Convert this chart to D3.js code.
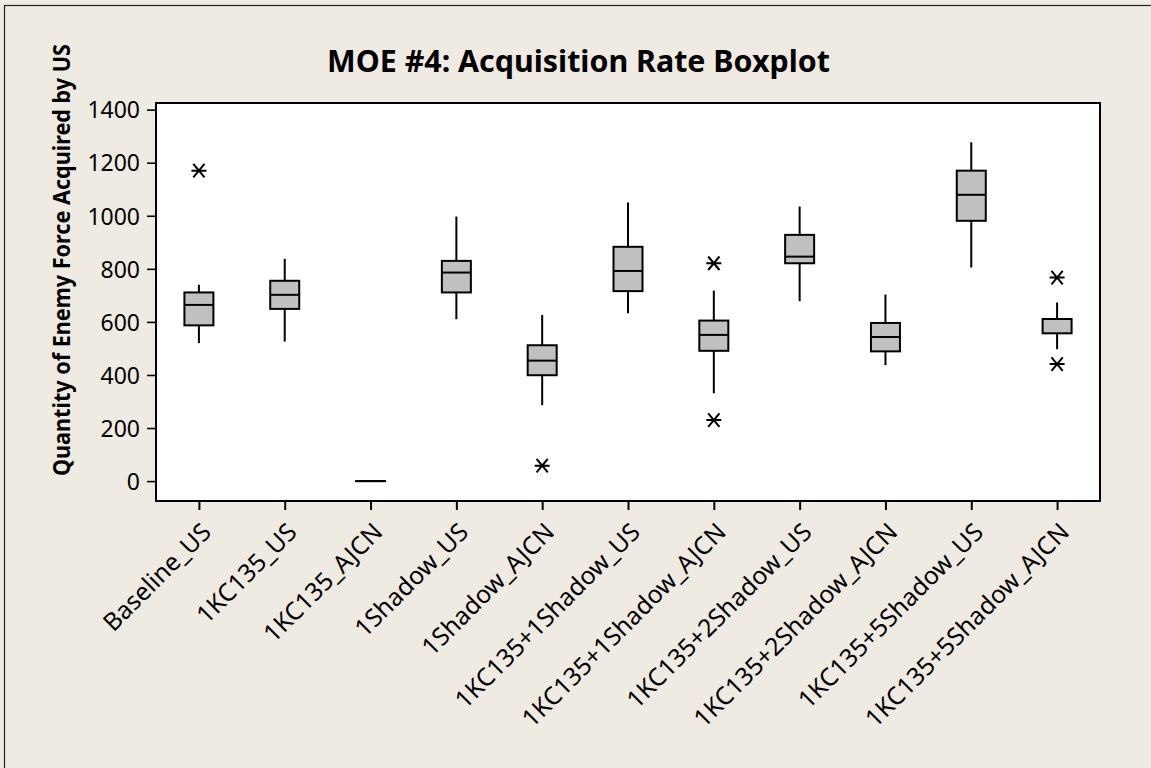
<!DOCTYPE html>
<html>
<head>
<meta charset="utf-8">
<script src="https://cdn.jsdelivr.net/npm/d3@7"></script>
<style>
  html, body { margin: 0; padding: 0; background: #efebe2; }
  svg { display: block; }
  .lbl { font-family: 'Noto Sans', 'DejaVu Sans', sans-serif; }
</style>
</head>
<body>
<script>
// ---------- data ----------
const categories = ["Baseline_US", "1KC135_US", "1KC135_AJCN", "1Shadow_US", "1Shadow_AJCN",
  "1KC135+1Shadow_US", "1KC135+1Shadow_AJCN", "1KC135+2Shadow_US", "1KC135+2Shadow_AJCN",
  "1KC135+5Shadow_US", "1KC135+5Shadow_AJCN"];
const whiskerLow  = [520, 526, 0, 610, 286, 633, 331, 678, 437, 805, 497];
const q1          = [587, 649, 0, 711, 399, 716, 491, 821, 489, 981, 557];
const median      = [664, 702, 0, 786, 454, 792, 551, 846, 543, 1079, 611];
const q3          = [711, 755, 0, 830, 512, 883, 605, 928, 596, 1170, 611];
const whiskerHigh = [740, 838, 0, 997, 626, 1050, 718, 1035, 703, 1277, 673];
const outliers    = [[1170], [], [], [], [58], [], [821, 230], [], [], [], [767, 441]];
const yTicks = [0, 200, 400, 600, 800, 1000, 1200, 1400];
const titleText = "MOE #4: Acquisition Rate Boxplot";
const yTitleText = "Quantity of Enemy Force Acquired by US";

// ---------- layout ----------
const W = 1151, H = 768;
const plot = { left: 156, top: 103, right: 1100, bottom: 501 };

const svg = d3.select("body").append("svg").attr("width", W).attr("height", H);
svg.append("rect").attr("width", W).attr("height", H).attr("fill", "#efebe2");
// outer frame (only top/left visible in the reference)
svg.append("rect").attr("x", 4.5).attr("y", 5.5).attr("width", W + 20).attr("height", H + 20)
  .attr("fill", "none").attr("stroke", "#222").attr("stroke-width", 1.2);

const x = d3.scalePoint().domain(categories).range([plot.left, plot.right]).padding(0.5);
const y = d3.scaleLinear().domain([-75, 1425]).range([plot.bottom, plot.top]);

// plot area
svg.append("rect").attr("x", plot.left).attr("y", plot.top)
  .attr("width", plot.right - plot.left).attr("height", plot.bottom - plot.top)
  .attr("fill", "#fff");

// y axis
const yAxis = d3.axisLeft(y).tickValues(yTicks).tickFormat(d3.format("d")).tickSize(9).tickPadding(7);
const gy = svg.append("g").attr("transform", `translate(${plot.left},0)`).call(yAxis);
gy.select(".domain").remove();
gy.selectAll("line").attr("stroke", "#000").attr("stroke-width", 1.6);
gy.selectAll("text").attr("class", "lbl").attr("font-size", 23).attr("fill", "#000")
  .attr("dy", "0.36em");

// x axis
const xAxis = d3.axisBottom(x).tickSize(9).tickFormat("");
const gx = svg.append("g").attr("transform", `translate(0,${plot.bottom})`).call(xAxis);
gx.select(".domain").remove();
gx.selectAll("line").attr("stroke", "#000").attr("stroke-width", 2);

// x labels rotated
const xl = svg.append("g");
const xLabels = xl.selectAll("text").data(categories).join("text")
  .attr("class", "lbl")
  .attr("text-anchor", "end")
  .attr("font-size", 23)
  .attr("fill", "#000")
  .attr("transform", d => `translate(${x(d) + 1},${521}) rotate(-45)`)
  .attr("y", 0).attr("dy", "0.72em")
  .text(d => d);
(function () {
  const node = xLabels.filter(d => d === "1KC135+5Shadow_AJCN").node();
  const len = node.getComputedTextLength();
  xLabels.attr("font-size", 23 * 276 / len);
})();

// boxes
const bw = 29;
const g = svg.append("g");
categories.forEach((c, i) => {
  const cx = x(c);
  g.append("line").attr("x1", cx).attr("x2", cx).attr("y1", y(whiskerHigh[i])).attr("y2", y(q3[i]))
    .attr("stroke", "#000").attr("stroke-width", 2);
  g.append("line").attr("x1", cx).attr("x2", cx).attr("y1", y(q1[i])).attr("y2", y(whiskerLow[i]))
    .attr("stroke", "#000").attr("stroke-width", 2);
  g.append("rect").attr("x", cx - bw / 2).attr("y", y(q3[i]))
    .attr("width", bw).attr("height", Math.max(0.01, y(q1[i]) - y(q3[i])))
    .attr("fill", "#c0c0c0").attr("stroke", "#000").attr("stroke-width", 2);
  g.append("line").attr("x1", cx - bw / 2).attr("x2", cx + bw / 2)
    .attr("y1", y(median[i])).attr("y2", y(median[i]))
    .attr("stroke", "#000").attr("stroke-width", 2);
  outliers[i].forEach(v => {
    const oy = y(v), s = 7.5;
    g.append("path")
      .attr("d", `M${cx - s},${oy}H${cx + s}M${cx - s * 0.75},${oy - s * 0.9}L${cx + s * 0.75},${oy + s * 0.9}M${cx + s * 0.75},${oy - s * 0.9}L${cx - s * 0.75},${oy + s * 0.9}`)
      .attr("stroke", "#000").attr("stroke-width", 2).attr("fill", "none");
  });
});

// plot frame on top
svg.append("rect").attr("x", plot.left).attr("y", plot.top)
  .attr("width", plot.right - plot.left).attr("height", plot.bottom - plot.top)
  .attr("fill", "none").attr("stroke", "#000").attr("stroke-width", 2);

// title
const title = svg.append("text").attr("class", "lbl")
  .attr("x", 578.5).attr("y", 72).attr("text-anchor", "middle")
  .attr("font-weight", "bold").attr("font-size", 28).attr("fill", "#000")
  .text(titleText);
(function () {
  const len = title.node().getComputedTextLength();
  title.attr("font-size", 28 * 503 / len);
})();

// y title
svg.append("text").attr("class", "lbl")
  .attr("transform", `translate(70,260) rotate(-90)`)
  .attr("text-anchor", "middle")
  .attr("font-weight", "bold").attr("font-size", 23.5).attr("fill", "#000")
  .attr("textLength", 432).attr("lengthAdjust", "spacingAndGlyphs")
  .text(yTitleText);
</script>
</body>
</html>
